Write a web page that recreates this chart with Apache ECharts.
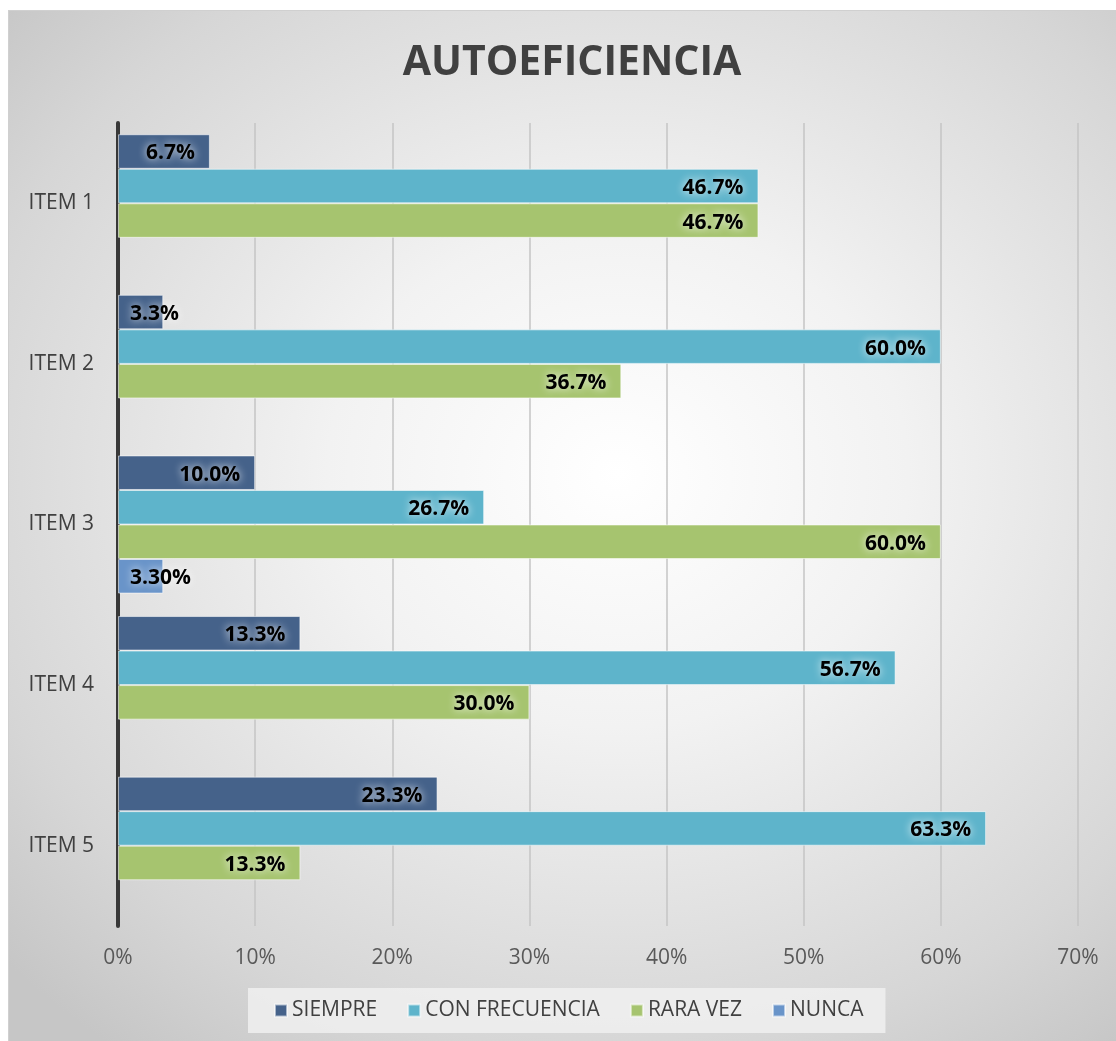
<!DOCTYPE html>
<html>
<head>
<meta charset="utf-8">
<script src="https://cdn.jsdelivr.net/npm/echarts@6/dist/echarts.min.js"></script>
<style>
  html, body { margin: 0; padding: 0; background: #fff; }
  #bg {
    position: absolute; left: 8px; top: 10px; width: 1108px; height: 1031px;
    box-sizing: border-box; border-top: 1px solid #d0d0d0; border-left: 1px solid #d0d0d0;
    background: radial-gradient(ellipse 75% 70% at 55% 45%, #ffffff 0%, #f2f2f2 35%, #d6d6d6 80%, #c6c6c6 100%);
  }
  #chart { position: absolute; left: 0; top: 0; width: 1116px; height: 1041px; }
</style>
</head>
<body>
<div id="bg"></div>
<div id="chart"></div>
<script>
const categories = ['ITEM 1', 'ITEM 2', 'ITEM 3', 'ITEM 4', 'ITEM 5']
const siempre = [6.7, 3.3, 10.0, 13.3, 23.3]
const conFrecuencia = [46.7, 60.0, 26.7, 56.7, 63.3]
const raraVez = [46.7, 36.7, 60.0, 30.0, 13.3]
const nunca = [null, null, 3.3, null, null]
const xTicks = [0, 10, 20, 30, 40, 50, 60, 70]

const FONT = "'Open Sans', 'Noto Sans', sans-serif"

// etiqueta dentro del final; si la barra es corta la pongo al inicio
function toItems(values) {
  return values.map(v => {
    if (v === null) return '-'
    if (v < 5) return { value: v, label: { position: 'insideLeft', distance: 12 } }
    return v
  })
}

function makeSeries(name, values, color, decimals) {
  return {
    name: name,
    type: 'bar',
    barGap: '0%',
    barCategoryGap: '14%',
    data: toItems(values),
    itemStyle: { color: color, borderColor: 'rgba(255,255,255,0.55)', borderWidth: 1 },
    label: {
      show: true,
      position: 'insideRight',
      distance: 15,
      offset: [0, 2],
      formatter: p => Number(p.value).toFixed(decimals) + '%',
      color: '#000',
      fontFamily: FONT,
      fontWeight: 'bold',
      fontSize: 21,
      textShadowColor: 'rgba(255,255,255,0.95)',
      textShadowBlur: 8
    }
  }
}

let chart = echarts.init(document.getElementById('chart'))
let options = {
  backgroundColor: 'transparent',
  animation: false,
  title: {
    text: 'AUTOEFICIENCIA',
    left: 567,
    textAlign: 'center',
    top: 38,
    textStyle: { fontFamily: FONT, fontWeight: 'bold', fontSize: 41, color: '#404040' }
  },
  legend: {
    left: 248,
    top: 988,
    itemWidth: 12,
    itemHeight: 12,
    itemGap: 30,
    padding: [12, 22, 12, 26],
    backgroundColor: 'rgba(240,240,240,0.85)',
    icon: 'rect',
    textStyle: { fontFamily: FONT, fontSize: 21, color: '#404040' },
    data: ['SIEMPRE', 'CON FRECUENCIA', 'RARA VEZ', 'NUNCA']
  },
  grid: { left: 118, right: 38, top: 123, bottom: 115, containLabel: false },
  xAxis: {
    type: 'value',
    min: xTicks[0],
    max: xTicks[xTicks.length - 1],
    interval: 10,
    axisLine: { show: false },
    axisTick: { show: false },
    axisLabel: { formatter: '{value}%', margin: 22, fontFamily: FONT, fontSize: 21, color: '#595959' },
    splitLine: { lineStyle: { color: '#c4c4c4', width: 1.5 } }
  },
  yAxis: {
    type: 'category',
    inverse: true,
    data: categories,
    axisLine: { lineStyle: { color: '#383838', width: 4 } },
    axisTick: { show: false },
    axisLabel: { margin: 24, fontFamily: FONT, fontSize: 21, color: '#404040' }
  },
  series: [
    makeSeries('SIEMPRE', siempre, '#45628a', 1),
    makeSeries('CON FRECUENCIA', conFrecuencia, '#5eb4cb', 1),
    makeSeries('RARA VEZ', raraVez, '#a6c46f', 1),
    makeSeries('NUNCA', nunca, '#6994c9', 2)
  ]
}
chart.setOption(options, true)
window.onresize = chart.resize
</script>
</body>
</html>
